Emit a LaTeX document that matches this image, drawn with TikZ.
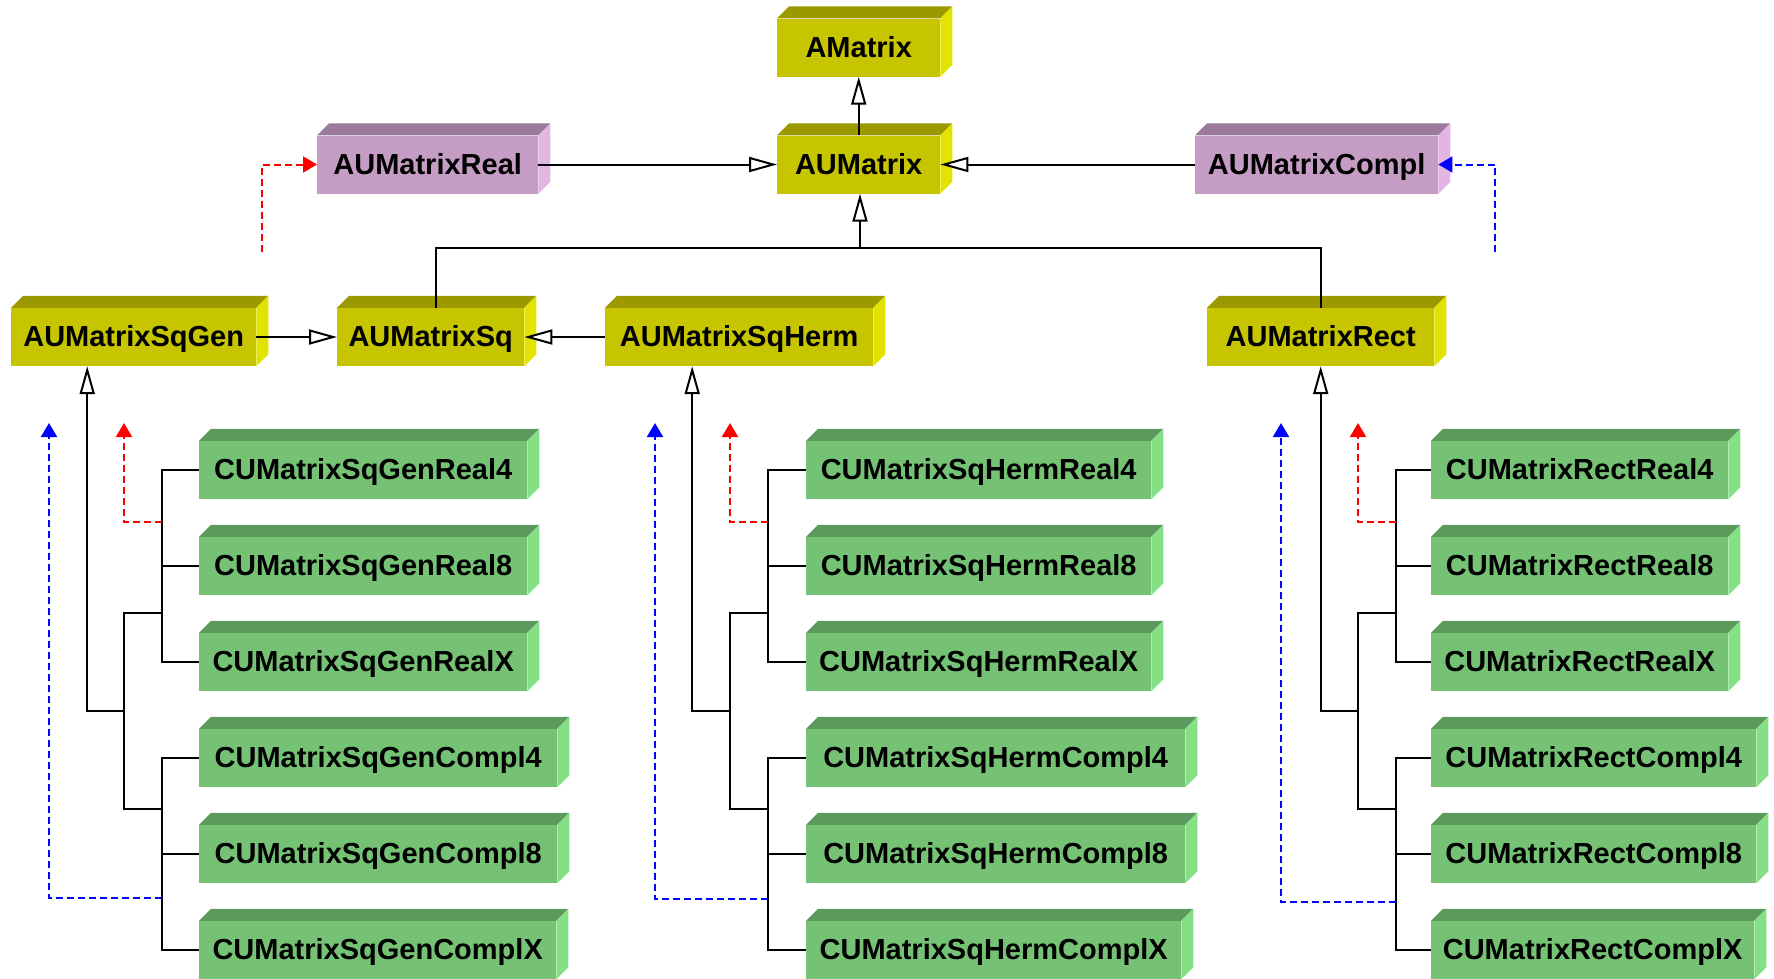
\documentclass[tikz,border=0pt]{standalone}
\usepackage{fontspec}
\setmainfont{Liberation Sans}
\usetikzlibrary{arrows.meta}
\definecolor{yelfront}{rgb}{0.78, 0.77, 0.0}
\definecolor{yeltop}{rgb}{0.61, 0.60, 0.0}
\definecolor{yelside}{rgb}{0.89, 0.89, 0.0}
\definecolor{purfront}{rgb}{0.77, 0.61, 0.77}
\definecolor{purtop}{rgb}{0.61, 0.48, 0.61}
\definecolor{purside}{rgb}{0.89, 0.71, 0.89}
\definecolor{grnfront}{rgb}{0.46, 0.76, 0.46}
\definecolor{grntop}{rgb}{0.36, 0.60, 0.36}
\definecolor{grnside}{rgb}{0.52, 0.88, 0.52}

\begin{document}
\begin{tikzpicture}[x=1pt,y=-1pt,
        cls/.style={inner sep=0pt, minimum height=58pt, anchor=west,
            text height=22pt, text depth=3pt,
            font=\bfseries\fontsize{29}{29}\selectfont},
        yel/.style={cls, fill=yelfront},
        pur/.style={cls, fill=purfront},
        grn/.style={cls, fill=grnfront},
        tree/.style={line width=2pt},
        inh/.style={tree, -{Triangle[length=28pt,width=15pt,fill=white]}},
        dep/.style={line width=2pt, dash pattern=on 7pt off 4pt,
            -{Triangle[length=14pt,width=16pt]}},
        realdep/.style={dep, red},
        compldep/.style={dep, blue}]
        \useasboundingbox (0,0) rectangle (1774,978);
        \clip (0,0) rectangle (1774,978);

        % Abstract classes
        \node[yel, minimum width=163pt] (amatrix) at (777,47.5) {AMatrix};
        \node[yel, minimum width=163pt] (aumatrix) at (777,164.5) {AUMatrix};
        \node[pur, minimum width=221pt] (aureal) at (317,164.5) {AUMatrixReal};
        \node[pur, minimum width=243pt] (aucompl) at (1195,164.5) {AUMatrixCompl};
        \node[yel, minimum width=245pt] (sqgen) at (11,337) {AUMatrixSqGen};
        \node[yel, minimum width=187pt] (sq) at (337,337) {AUMatrixSq};
        \node[yel, minimum width=268pt] (sqherm) at (605,337) {AUMatrixSqHerm};
        \node[yel, minimum width=227pt] (rect) at (1207,337) {AUMatrixRect};

        % Concrete classes: square general
        \node[grn, minimum width=328pt] (g1) at (199,470) {CUMatrixSqGenReal4};
        \node[grn, minimum width=328pt] (g2) at (199,566) {CUMatrixSqGenReal8};
        \node[grn, minimum width=328pt] (g3) at (199,662) {CUMatrixSqGenRealX};
        \node[grn, minimum width=358pt] (g4) at (199,758) {CUMatrixSqGenCompl4};
        \node[grn, minimum width=358pt] (g5) at (199,854) {CUMatrixSqGenCompl8};
        \node[grn, minimum width=357pt] (g6) at (199,950) {CUMatrixSqGenComplX};

        % Concrete classes: square hermitian
        \node[grn, minimum width=345pt] (h1) at (806,470) {CUMatrixSqHermReal4};
        \node[grn, minimum width=345pt] (h2) at (806,566) {CUMatrixSqHermReal8};
        \node[grn, minimum width=345pt] (h3) at (806,662) {CUMatrixSqHermRealX};
        \node[grn, minimum width=379pt] (h4) at (806,758) {CUMatrixSqHermCompl4};
        \node[grn, minimum width=379pt] (h5) at (806,854) {CUMatrixSqHermCompl8};
        \node[grn, minimum width=375pt] (h6) at (806,950) {CUMatrixSqHermComplX};

        % Concrete classes: rectangular
        \node[grn, minimum width=297pt] (r1) at (1431,470) {CUMatrixRectReal4};
        \node[grn, minimum width=297pt] (r2) at (1431,566) {CUMatrixRectReal8};
        \node[grn, minimum width=297pt] (r3) at (1431,662) {CUMatrixRectRealX};
        \node[grn, minimum width=325pt] (r4) at (1431,758) {CUMatrixRectCompl4};
        \node[grn, minimum width=325pt] (r5) at (1431,854) {CUMatrixRectCompl8};
        \node[grn, minimum width=323pt] (r6) at (1431,950) {CUMatrixRectComplX};

        % Top and side faces
        \foreach \n/\col in {amatrix/yel, aumatrix/yel, aureal/pur, aucompl/pur,
                sqgen/yel, sq/yel, sqherm/yel, rect/yel,
                g1/grn, g2/grn, g3/grn, g4/grn, g5/grn, g6/grn,
                h1/grn, h2/grn, h3/grn, h4/grn, h5/grn, h6/grn,
                r1/grn, r2/grn, r3/grn, r4/grn, r5/grn, r6/grn} {
            \fill[fill=\col top] (\n.north west) -- ++(12,-12)
                -- ([shift={(12,-12)}]\n.north east) -- (\n.north east) -- cycle;
            \fill[fill=\col side] (\n.north east) -- ++(12,-12)
                -- ([shift={(12,-12)}]\n.south east) -- (\n.south east) -- cycle;
        }

        % Upper inheritance
        \draw[inh] (aumatrix) -- (amatrix);
        \draw[inh] (aureal) -- (aumatrix);
        \draw[inh] (aucompl) -- (aumatrix);
        \coordinate (bus) at (860,248);
        \draw[inh] (bus) -- (aumatrix.south -| bus);
        \draw[tree] ([xshift=5.5]sq.north) |- (bus) -| (rect.north);
        \draw[inh] (sqgen) -- (sq);
        \draw[inh] (sqherm) -- (sq);

        % Dangling dependencies
        \coordinate (redend) at (262,252);
        \coordinate (blueend) at (1495,252);
        \draw[realdep] (redend) |- (aureal.west);
        \draw[compldep] (blueend) |- (aucompl.east);

        % Tree under AUMatrixSqGen
        \coordinate (gj) at (124,711);
        \coordinate (gjr) at (162,613);
        \coordinate (gjc) at (162,809);
        \draw[inh] (gj) -| ([xshift=-46.5]sqgen.south);
        \draw[tree] (gjr) -| (gj) |- (gjc);
        \draw[tree] (g1.west) -| (gjr) |- (g3.west);
        \draw[tree] (g2.west) -- (g2.west -| gjr);
        \draw[tree] (g4.west) -| (gjc) |- (g6.west);
        \draw[tree] (g5.west) -- (g5.west -| gjc);
        \coordinate (gred) at (162,522);
        \coordinate (gredtip) at (124,423);
        \coordinate (gblue) at (162,898);
        \coordinate (gbluetip) at (49,423);
        \draw[realdep] (gred) -| (gredtip);
        \draw[compldep] (gblue) -| (gbluetip);

        % Tree under AUMatrixSqHerm
        \coordinate (hj) at (730,711);
        \coordinate (hjr) at (768,613);
        \coordinate (hjc) at (768,809);
        \draw[inh] (hj) -| ([xshift=-47]sqherm.south);
        \draw[tree] (hjr) -| (hj) |- (hjc);
        \draw[tree] (h1.west) -| (hjr) |- (h3.west);
        \draw[tree] (h2.west) -- (h2.west -| hjr);
        \draw[tree] (h4.west) -| (hjc) |- (h6.west);
        \draw[tree] (h5.west) -- (h5.west -| hjc);
        \coordinate (hred) at (768,522);
        \coordinate (hredtip) at (730,423);
        \coordinate (hblue) at (768,899);
        \coordinate (hbluetip) at (655,423);
        \draw[realdep] (hred) -| (hredtip);
        \draw[compldep] (hblue) -| (hbluetip);

        % Tree under AUMatrixRect
        \coordinate (rj) at (1358,711);
        \coordinate (rjr) at (1396,613);
        \coordinate (rjc) at (1396,809);
        \draw[inh] (rj) -| (rect.south);
        \draw[tree] (rjr) -| (rj) |- (rjc);
        \draw[tree] (r1.west) -| (rjr) |- (r3.west);
        \draw[tree] (r2.west) -- (r2.west -| rjr);
        \draw[tree] (r4.west) -| (rjc) |- (r6.west);
        \draw[tree] (r5.west) -- (r5.west -| rjc);
        \coordinate (rred) at (1396,522);
        \coordinate (rredtip) at (1358,423);
        \coordinate (rblue) at (1396,902);
        \coordinate (rbluetip) at (1281,423);
        \draw[realdep] (rred) -| (rredtip);
        \draw[compldep] (rblue) -| (rbluetip);

    \end{tikzpicture}
\end{document}
